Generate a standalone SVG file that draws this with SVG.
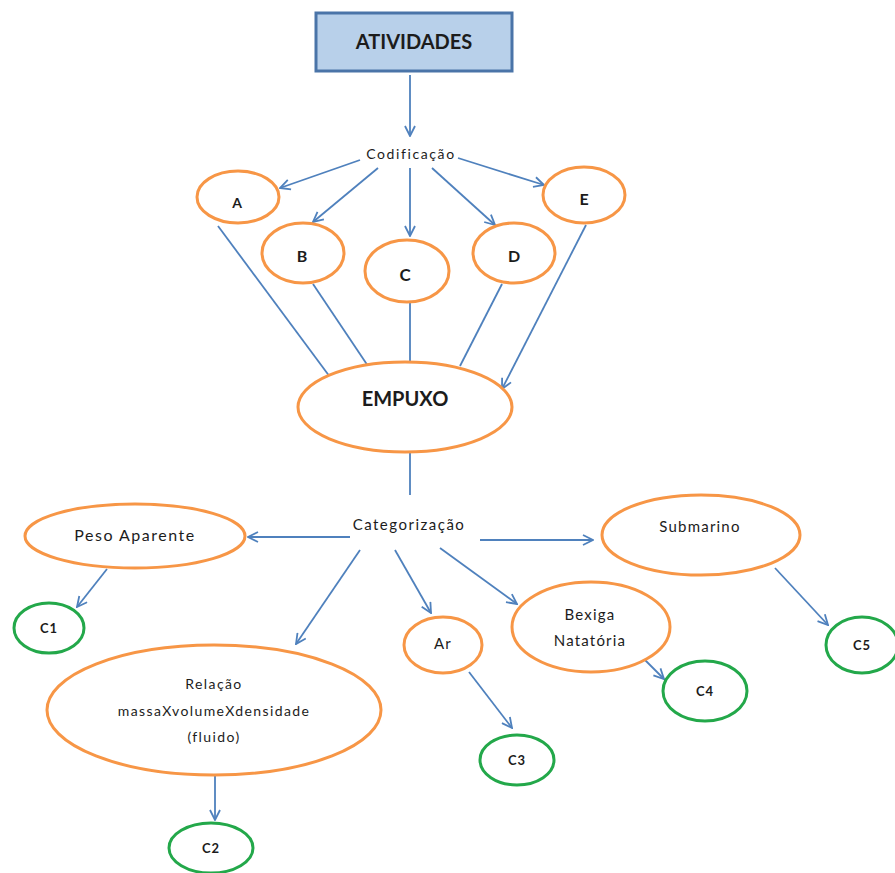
<svg xmlns="http://www.w3.org/2000/svg" width="895" height="873" viewBox="0 0 895 873">
<style>
.o{fill:#fff;stroke:#f79646;stroke-width:3}
.g{fill:#fff;stroke:#23a84a;stroke-width:3}
.c line,.c path{stroke:#4f81bd;stroke-width:1.8;fill:none}
text{font-family:Lato,"Open Sans","Liberation Sans",sans-serif;fill:#1c1c1c;text-anchor:middle}
.b{font-weight:bold}
.t{font-size:15px;letter-spacing:1.2px}
.k{font-size:13px;letter-spacing:1px;font-weight:bold}
</style>
<defs>
<marker id="ar" viewBox="0 0 12 12" refX="11" refY="6" markerWidth="12" markerHeight="12" markerUnits="userSpaceOnUse" orient="auto">
<path d="M1,1 L11,6 L1,11" fill="none" stroke="#4f81bd" stroke-width="1.8"/>
</marker>
</defs>
<rect width="895" height="873" fill="#fff"/>
<g class="c" id="connectors">
<line x1="410" y1="75" x2="410" y2="136" marker-end="url(#ar)"/>
<line x1="360" y1="160" x2="280" y2="188" marker-end="url(#ar)"/>
<line x1="378" y1="168" x2="313" y2="222" marker-end="url(#ar)"/>
<line x1="410" y1="168" x2="410" y2="236" marker-end="url(#ar)"/>
<line x1="432" y1="168" x2="495" y2="225" marker-end="url(#ar)"/>
<line x1="458" y1="158" x2="544" y2="185" marker-end="url(#ar)"/>
<line x1="218" y1="226" x2="330" y2="377"/>
<line x1="313" y1="284" x2="368" y2="366"/>
<line x1="410" y1="302" x2="410" y2="362"/>
<line x1="502" y1="284" x2="460" y2="366"/>
<line x1="586" y1="225" x2="502" y2="389" marker-end="url(#ar)"/>
<line x1="410" y1="453" x2="410" y2="495"/>
<line x1="350" y1="537" x2="248" y2="537" marker-end="url(#ar)"/>
<line x1="480" y1="540" x2="593" y2="540" marker-end="url(#ar)"/>
<line x1="107" y1="569" x2="77" y2="607" marker-end="url(#ar)"/>
<line x1="360" y1="550" x2="296" y2="644" marker-end="url(#ar)"/>
<line x1="395" y1="550" x2="431" y2="613" marker-end="url(#ar)"/>
<line x1="440" y1="548" x2="517" y2="604" marker-end="url(#ar)"/>
<line x1="215" y1="775" x2="215" y2="820" marker-end="url(#ar)"/>
<line x1="469" y1="672" x2="512" y2="728" marker-end="url(#ar)"/>
<line x1="644" y1="659" x2="664" y2="679" marker-end="url(#ar)"/>
<line x1="775" y1="568" x2="828" y2="625" marker-end="url(#ar)"/>
</g>
<g id="atividades"><rect x="316" y="13" width="196" height="58" fill="#b8d0ea" stroke="#4a74a8" stroke-width="3"/><text x="414" y="49" class="b" font-size="20">ATIVIDADES</text></g>
<g id="codificacao"><text x="411" y="159" font-size="14" letter-spacing="1.6">Codificação</text></g>
<g id="nA"><ellipse class="o" cx="238" cy="197" rx="41" ry="26"/><text x="237" y="208" class="b" font-size="14">A</text></g>
<g id="nB"><ellipse class="o" cx="303" cy="253" rx="41" ry="30"/><text x="302" y="262" class="b" font-size="16">B</text></g>
<g id="nC"><ellipse class="o" cx="407" cy="271" rx="42" ry="31"/><text x="405" y="281" class="b" font-size="17">C</text></g>
<g id="nD"><ellipse class="o" cx="514" cy="253" rx="41" ry="30"/><text x="514" y="262" class="b" font-size="16">D</text></g>
<g id="nE"><ellipse class="o" cx="584" cy="195" rx="41" ry="28"/><text x="584" y="205" class="b" font-size="16">E</text></g>
<g id="empuxo"><ellipse class="o" cx="405" cy="407" rx="107" ry="45"/><text x="405" y="406" class="b" font-size="20">EMPUXO</text></g>
<g id="categorizacao"><text x="409" y="530" font-size="15" letter-spacing="1.5">Categorização</text></g>
<g id="peso"><ellipse class="o" cx="135" cy="536" rx="110" ry="32"/><text x="135" y="541" font-size="16" letter-spacing="1.5">Peso Aparente</text></g>
<g id="c1"><ellipse class="g" cx="49" cy="628" rx="35" ry="25"/><text class="k" x="49" y="633">C1</text></g>
<g id="relacao"><ellipse class="o" cx="214" cy="710" rx="167" ry="65"/><text x="214" y="689" font-size="14" letter-spacing="1.4">Relação</text><text x="214" y="716" font-size="14" letter-spacing="1.4">massaXvolumeXdensidade</text><text x="214" y="742" font-size="14" letter-spacing="1.4">(fluido)</text></g>
<g id="c2"><ellipse class="g" cx="211" cy="848" rx="42" ry="25"/><text class="k" x="211" y="853">C2</text></g>
<g id="ar"><ellipse class="o" cx="443" cy="645" rx="39" ry="28"/><text class="t" x="443" y="649">Ar</text></g>
<g id="c3"><ellipse class="g" cx="517" cy="760" rx="37" ry="25"/><text class="k" x="517" y="765">C3</text></g>
<g id="bexiga"><ellipse class="o" cx="591" cy="627" rx="79" ry="45"/><text class="t" x="590" y="620">Bexiga</text><text class="t" x="590" y="646">Natatória</text></g>
<g id="c4"><ellipse class="g" cx="705" cy="691" rx="42" ry="30"/><text class="k" x="705" y="696">C4</text></g>
<g id="submarino"><ellipse class="o" cx="701" cy="535" rx="99" ry="40"/><text class="t" x="700" y="532">Submarino</text></g>
<g id="c5"><ellipse class="g" cx="862" cy="645" rx="36" ry="28"/><text class="k" x="862" y="650">C5</text></g>
</svg>
